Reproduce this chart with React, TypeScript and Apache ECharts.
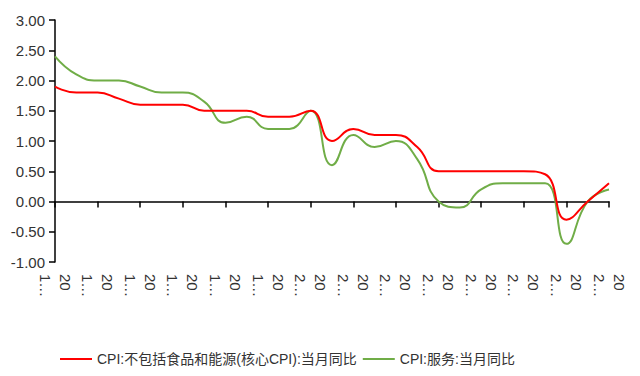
import React, { useEffect, useRef } from "react";
import * as echarts from "echarts";

const categories: string[] = [
  "20\n1…", "", "20\n1…", "", "20\n1…", "", "20\n1…", "", "20\n1…", "", "20\n1…", "",
  "20\n2…", "", "20\n2…", "", "20\n2…", "", "20\n2…", "", "20\n2…", "", "20\n2…", "",
  "20\n2…", "", "20\n2…",
];

const coreCPI: number[] = [
  1.9, 1.8, 1.8, 1.7, 1.6, 1.6, 1.6, 1.5, 1.5, 1.5, 1.4, 1.4, 1.5, 1.0,
  1.2, 1.1, 1.1, 0.9, 0.5, 0.5, 0.5, 0.5, 0.5, 0.45, -0.3, 0.0, 0.3,
];

const serviceCPI: number[] = [
  2.4, 2.1, 2.0, 2.0, 1.9, 1.8, 1.8, 1.65, 1.3, 1.4, 1.2, 1.2, 1.5, 0.6,
  1.1, 0.9, 1.0, 0.7, 0.0, -0.1, 0.2, 0.3, 0.3, 0.3, -0.7, 0.0, 0.2,
];

const seriesNames: string[] = ["CPI:不包括食品和能源(核心CPI):当月同比", "CPI:服务:当月同比"];

const FONT = "'Liberation Sans', Arial, 'Noto Sans CJK SC', sans-serif";
const TEXT = "#333333";

export default function App() {
  const ref = useRef<HTMLDivElement>(null);
  useEffect(() => {
    if (!ref.current) return;
    const chart = echarts.init(ref.current, undefined, { renderer: "svg" });
    chart.setOption({
      animation: false,
      backgroundColor: "#ffffff",
      textStyle: { fontFamily: FONT },
      grid: { left: 55, right: 31, top: 20, bottom: 114, containLabel: false },
      legend: {
        left: 55,
        top: 347,
        icon: "rect",
        itemWidth: 32,
        itemHeight: 2,
        itemGap: 6,
        textStyle: { fontSize: 14, color: TEXT, fontFamily: FONT },
        data: seriesNames,
      },
      xAxis: [
        {
          type: "category",
          data: categories,
          boundaryGap: false,
          axisLine: { onZero: true, lineStyle: { color: "#000", width: 1.5 } },
          axisTick: { show: true, interval: 1, length: 6, lineStyle: { color: "#000", width: 1.5 } },
          axisLabel: { show: false },
          splitLine: { show: false },
        },
        {
          type: "category",
          data: categories,
          boundaryGap: false,
          position: "bottom",
          axisLine: { show: false, onZero: false },
          axisTick: { show: false },
          axisLabel: {
            interval: 1,
            rotate: -90,
            margin: 12,
            fontSize: 15,
            lineHeight: 20,
            color: TEXT,
            fontFamily: FONT,
          },
          splitLine: { show: false },
        },
      ],
      yAxis: {
        type: "value",
        min: -1,
        max: 3,
        interval: 0.5,
        axisLine: { show: true, lineStyle: { color: "#000", width: 1.5 } },
        axisTick: { show: true, length: 6, lineStyle: { color: "#000", width: 1.5 } },
        axisLabel: {
          formatter: (v: number) => v.toFixed(2),
          fontSize: 15,
          color: TEXT,
          margin: 10,
          fontFamily: FONT,
        },
        splitLine: { show: false },
      },
      series: [
        {
          name: seriesNames[0],
          type: "line",
          xAxisIndex: 0,
          data: coreCPI,
          smooth: 0.5,
          symbol: "none",
          lineStyle: { color: "#ff0000", width: 2 },
          itemStyle: { color: "#ff0000" },
          z: 3,
        },
        {
          name: seriesNames[1],
          type: "line",
          xAxisIndex: 0,
          data: serviceCPI,
          smooth: 0.5,
          symbol: "none",
          lineStyle: { color: "#70ad47", width: 2 },
          itemStyle: { color: "#70ad47" },
          z: 2,
        },
      ],
    });
    return () => chart.dispose();
  }, []);
  return (
    <div
      ref={ref}
      style={{ position: "fixed", left: 0, top: 0, width: 640, height: 376 }}
    />
  );
}
